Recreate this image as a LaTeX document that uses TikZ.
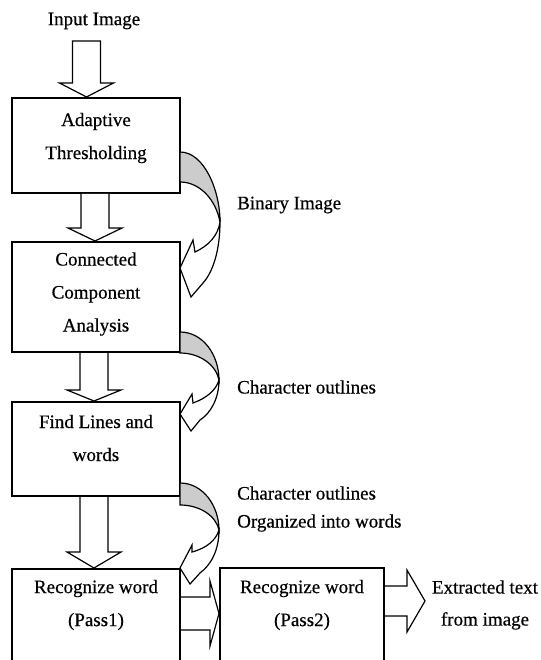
\documentclass[tikz,border=0pt]{standalone}
\usepackage{fontspec}
\setmainfont{Liberation Serif}[UprightFeatures={FakeBold=0.5}]
\begin{document}
\begin{tikzpicture}[x=1pt,y=-1pt,
  box/.style={draw=black,line width=2pt,fill=white,inner sep=0pt},
  txt/.style={font=\fontsize{19}{33}\selectfont,align=center,inner sep=0pt},
  lbl/.style={font=\fontsize{19}{28}\selectfont,align=left,inner sep=0pt,anchor=west},
  blk/.style={draw=black,line width=1.2pt,fill=white,line join=miter},
  twist/.style={draw=black,line width=1.2pt,fill=black!20},
  curv/.style={draw=black,line width=1.2pt,fill=white}]
\useasboundingbox (0,0) rectangle (540,660);
\clip (0,0) rectangle (540,660);
% boxes
\node[box,minimum width=168pt,minimum height=95pt] (b1) at (96,145.5) {};
\node[box,minimum width=168pt,minimum height=110pt] (b2) at (96,297) {};
\node[box,minimum width=168pt,minimum height=94pt] (b3) at (96,449) {};
\node[box,minimum width=168pt,minimum height=120pt] (b4) at (96,629) {};
\node[box,minimum width=164pt,minimum height=120pt] (b5) at (302,628) {};
% box texts
\node[txt] (t1) at (96,138) {Adaptive\\Thresholding};
\node[txt] (t2) at (96,294) {Connected\\Component\\Analysis};
\node[txt] (t3) at (96,438) {Find Lines and\\words};
\node[txt] (t4) at (96,605) {Recognize word\\(Pass1)};
\node[txt] (t5) at (302,605) {Recognize word\\(Pass2)};
% outside labels
\node[txt] (in) at (94,21) {Input Image};
\node[lbl] (l1) at (237,205) {Binary Image};
\node[lbl] (l2) at (237,387) {Character outlines};
\node[lbl] (l3) at (237,509) {Character outlines\\Organized into words};
\node[txt,font=\fontsize{19}{32}\selectfont] (out) at (485,605) {Extracted text\\from image};
% vertical block arrows
\draw[blk] (72.5,41) -- (72.5,83) -- (59.5,83) -- (86.5,0 |- b1.north) -- (113.5,83) -- (100.5,83) -- (100.5,41) -- cycle;
\draw[blk] (81,0 |- b1.south) -- (81,228) -- (68,228) -- (95,0 |- b2.north) -- (122,228) -- (109,228) -- (109,0 |- b1.south);
\draw[blk] (80,0 |- b2.south) -- (80,390) -- (67,390) -- (94,0 |- b3.north) -- (121,390) -- (108,390) -- (108,0 |- b2.south);
\draw[blk] (80,0 |- b3.south) -- (80,552) -- (67,552) -- (94,0 |- b4.north) -- (121,552) -- (108,552) -- (108,0 |- b3.south);
% horizontal block arrows
\draw[blk] (b4.east |- 0,597) -- (210,597) -- (210,581) -- (b5.west |- 0,613.5) -- (210,646) -- (210,630) -- (b4.east |- 0,630);
\draw[blk] (b5.east |- 0,586) -- (407,586) -- (407,570) -- (425,601) -- (407,632) -- (407,616) -- (b5.east |- 0,616);
% curved arrows
\path[twist] (180,152) .. controls (204,152) and (220,190) .. (220,222) .. controls (216,200) and (200,182) .. (180,182) -- cycle;
\path[curv] (220,222) .. controls (220,250) and (213,272) .. (203,283) -- (191,297) -- (180,268) -- (193,240) -- (195,252) .. controls (208,246) and (218,236) .. (220,222) -- cycle;
\path[twist] (180,332) .. controls (203,332) and (219,355) .. (219,380) .. controls (216,365) and (200,353) .. (180,353) -- cycle;
\path[curv] (219,380) .. controls (219,398) and (211,413) .. (200,420) -- (191,431) -- (180,414) -- (192,394) -- (193,403) .. controls (207,398) and (216,390) .. (219,380) -- cycle;
\path[twist] (180,483) .. controls (203,483) and (219,506) .. (219,530) .. controls (216,516) and (200,505) .. (180,505) -- cycle;
\path[curv] (219,530) .. controls (219,550) and (211,565) .. (200,573) -- (190,584) -- (180,568) -- (192,545) -- (192,552) .. controls (207,548) and (216,540) .. (219,530) -- cycle;
\end{tikzpicture}
\end{document}
